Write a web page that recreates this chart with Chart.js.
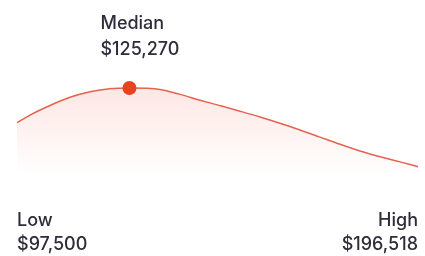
<!DOCTYPE html>
<html>
<head>
<meta charset="utf-8">
<script src="https://cdn.jsdelivr.net/npm/chart.js@4"></script>
<style>
  body { margin: 0; background: #fff; }
  #wrap { width: 425px; height: 256px; position: relative; }
</style>
</head>
<body>
<div id="wrap"><canvas id="salaryChart"></canvas></div>
<script>
  // salary distribution curve (x = salary, y = relative density)
  const salaries = [97500, 100710, 105650, 110590, 115530, 120460, 125270, 132810, 137750, 142690,
    147630, 152570, 157500, 162440, 167380, 172320, 177260, 182200, 187140, 192070, 196518];
  const density = [55.5, 63.5, 73.5, 82, 87.8, 91, 91.7, 90.2, 85, 79,
    73.3, 67.5, 61.5, 55, 48, 40.5, 33, 26, 20, 14.7, 9.7];

  const lowValue = 97500;
  const medianValue = 125270;
  const highValue = 196518;

  const fmt = v => '$' + v.toLocaleString('en-US');

  const labelPlugin = {
    id: 'salaryLabels',
    afterDraw(chart) {
      const ctx = chart.ctx;
      const x = chart.scales.x;
      ctx.save();
      ctx.fillStyle = '#2f2c3a';
      ctx.font = '500 18px Inter, "Noto Sans", sans-serif';
      ctx.textBaseline = 'alphabetic';

      const mx = x.getPixelForValue(medianValue);
      ctx.textAlign = 'left';
      ctx.fillText('Median', mx - 29, 29);
      ctx.fillText(fmt(medianValue), mx - 29, 55);

      const lx = x.getPixelForValue(lowValue);
      ctx.fillText('Low', lx, 226);
      ctx.fillText(fmt(lowValue), lx, 250);

      const hx = x.getPixelForValue(highValue);
      ctx.textAlign = 'right';
      ctx.fillText('High', hx, 226);
      ctx.fillText(fmt(highValue), hx, 250);
      ctx.restore();
    }
  };

  const data = {
    datasets: [{
      data: salaries.map((s, i) => ({ x: s, y: density[i] })),
      borderColor: '#e4634f',
      borderWidth: 1.5,
      cubicInterpolationMode: 'monotone',
      fill: 'origin',
      backgroundColor: (c) => {
        const area = c.chart.chartArea;
        if (!area) return 'rgba(240,90,70,0.1)';
        const g = c.chart.ctx.createLinearGradient(0, area.top, 0, area.bottom);
        g.addColorStop(0, 'rgba(240,90,70,0.16)');
        g.addColorStop(1, 'rgba(240,90,70,0)');
        return g;
      },
      pointRadius: (c) => c.raw && c.raw.x === medianValue ? 7 : 0,
      pointBackgroundColor: '#e8421f',
      pointBorderWidth: 0,
      clip: false
    }]
  };

  const config = {
    type: 'line',
    data: data,
    options: {
      responsive: true,
      maintainAspectRatio: false,
      animation: false,
      layout: { padding: { left: 17, right: 7, top: 80, bottom: 80 } },
      plugins: { legend: { display: false }, tooltip: { enabled: false } },
      scales: {
        x: { type: 'linear', display: false, min: lowValue, max: highValue },
        y: { display: false, min: 0, max: 100 }
      }
    },
    plugins: [labelPlugin]
  };

  const salaryChart = new Chart(document.getElementById('salaryChart'), config);
</script>
</body>
</html>
